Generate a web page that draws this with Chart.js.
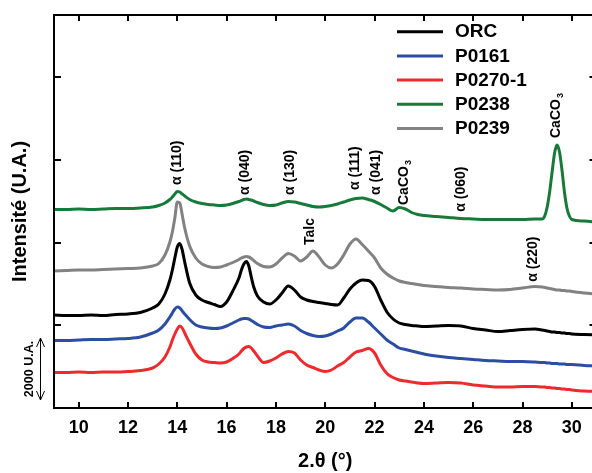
<!DOCTYPE html>
<html>
<head>
<meta charset="utf-8">
<script src="https://cdn.jsdelivr.net/npm/chart.js@4.4.1/dist/chart.umd.min.js"></script>
<style>
html,body{margin:0;padding:0;background:#fff;overflow:hidden;}
#wrap{width:600px;height:473px;}
</style>
</head>
<body>
<div id="wrap"><canvas id="c" width="600" height="473"></canvas></div>
<script>
// ---------------- DATA ----------------
const twoTheta = [
  9, 9.5, 10, 10.5, 11, 11.5, 12, 12.5,
  13, 13.25, 13.5, 13.7, 13.8, 13.9, 14, 14.1, 14.2, 14.3,
  14.5, 14.75, 15, 15.25, 15.5, 15.75, 16, 16.25, 16.5,
  16.6, 16.7, 16.8, 16.9, 17, 17.1, 17.25, 17.5, 17.75, 18,
  18.25, 18.5, 18.75, 19, 19.25, 19.5, 19.75, 20, 20.25, 20.5, 20.75, 21,
  21.25, 21.5, 21.75, 22, 22.25, 22.5, 22.75, 23, 23.25, 23.5, 23.75, 24,
  24.5, 25, 25.5, 26, 26.5, 27, 27.5, 28, 28.5,
  28.8, 28.9, 29, 29.1, 29.2, 29.3, 29.4, 29.5, 29.6, 29.7, 29.8, 29.9,
  30, 30.5, 31
];

const ORC = [
  2790, 2775, 2775, 2790, 2775, 2805, 2820, 2865,
  3000, 3120, 3420, 3840, 4140, 4500, 4830, 4935, 4740, 4380,
  3750, 3390, 3240, 3165, 3105, 3045, 3180, 3510, 3900,
  4140, 4320, 4395, 4260, 3930, 3630, 3360, 3180, 3120, 3240,
  3450, 3660, 3540, 3330, 3240, 3195, 3165, 3135, 3105, 3090, 3300, 3570,
  3750, 3840, 3825, 3645, 3240, 2880, 2670, 2550, 2505, 2475, 2460, 2445,
  2460, 2475, 2460, 2385, 2340, 2295, 2325, 2355, 2370,
  2340, 2325, 2310, 2295, 2280, 2280, 2265, 2265, 2250, 2250, 2235, 2235,
  2220, 2205, 2190
];

const P0161 = [
  2025, 2025, 2040, 2055, 2055, 2070, 2085, 2130,
  2250, 2340, 2520, 2730, 2850, 2970, 3030, 3000, 2910, 2820,
  2655, 2490, 2430, 2400, 2385, 2400, 2460, 2550, 2640,
  2670, 2685, 2685, 2670, 2625, 2580, 2505, 2430, 2415, 2460,
  2490, 2520, 2460, 2325, 2235, 2175, 2145, 2160, 2220, 2310, 2400, 2580,
  2700, 2700, 2580, 2400, 2220, 2040, 1920, 1800, 1755, 1710, 1665, 1620,
  1560, 1515, 1485, 1455, 1425, 1410, 1395, 1395, 1380,
  1365, 1365, 1350, 1350, 1335, 1335, 1335, 1320, 1320, 1320, 1305, 1305,
  1305, 1275, 1260
];

const P0270_1 = [
  1065, 1065, 1080, 1065, 1080, 1080, 1095, 1125,
  1200, 1320, 1530, 1830, 2040, 2220, 2370, 2460, 2400, 2250,
  1950, 1620, 1440, 1380, 1365, 1350, 1380, 1485, 1620,
  1710, 1785, 1830, 1845, 1800, 1710, 1560, 1365, 1410, 1500,
  1620, 1695, 1650, 1440, 1290, 1215, 1140, 1095, 1140, 1260, 1365, 1530,
  1680, 1725, 1785, 1650, 1290, 1035, 915, 840, 810, 780, 750, 735,
  750, 765, 750, 690, 660, 630, 630, 645, 645,
  630, 630, 615, 615, 600, 600, 585, 585, 570, 570, 555, 555,
  540, 510, 495
];

const P0238 = [
  5955, 5955, 5970, 5955, 5970, 5985, 5985, 6000,
  6030, 6075, 6150, 6255, 6330, 6420, 6495, 6480, 6420, 6360,
  6255, 6180, 6135, 6105, 6090, 6075, 6090, 6135, 6195,
  6225, 6255, 6270, 6255, 6240, 6210, 6165, 6105, 6075, 6090,
  6150, 6195, 6180, 6135, 6090, 6045, 6030, 6045, 6075, 6120, 6180, 6240,
  6285, 6300, 6255, 6195, 6105, 6000, 5910, 6015, 5970, 5865, 5805, 5775,
  5745, 5715, 5685, 5670, 5655, 5655, 5655, 5655, 5670,
  5670, 5760, 6030, 6480, 7080, 7650, 7890, 7680, 7140, 6480, 6000, 5760,
  5655, 5610, 5580
];

const P0239 = [
  4110, 4125, 4140, 4140, 4155, 4170, 4185, 4200,
  4260, 4335, 4590, 4980, 5280, 5700, 6180, 6150, 5790, 5400,
  4860, 4500, 4320, 4245, 4215, 4230, 4290, 4365, 4455,
  4500, 4530, 4545, 4530, 4485, 4425, 4335, 4245, 4230, 4320,
  4500, 4635, 4560, 4410, 4530, 4710, 4530, 4290, 4200, 4320, 4590, 4920,
  5070, 4905, 4710, 4500, 4200, 4020, 3900, 3810, 3765, 3735, 3705, 3675,
  3645, 3615, 3600, 3570, 3555, 3540, 3555, 3600, 3645,
  3630, 3615, 3600, 3585, 3570, 3555, 3540, 3540, 3525, 3525, 3510, 3510,
  3495, 3450, 3420
];

const seriesNames = ['ORC', 'P0161', 'P0270-1', 'P0238', 'P0239'];
const seriesValues = [ORC, P0161, P0270_1, P0238, P0239];
const seriesColors = ['#000000', '#2b4ea3', '#ee2a2e', '#177a3a', '#828282'];

const xTickValues = [10, 12, 14, 16, 18, 20, 22, 24, 26, 28, 30];
const yTickValues = [2480, 4960, 7440, 9920];
const xMin = 9, xMax = 31, yMin = 0, yMax = 11790;

const peakLabels = ['α (110)', 'α (040)', 'α (130)', 'α (111)', 'α (041)', 'CaCO', 'α (060)', 'CaCO', 'Talc', 'α (220)'];
const peakLabelSubs = ['', '', '', '', '', '3', '', '3', '', ''];
const peakLabelAngles = [14.0, 16.77, 18.57, 21.2, 22.06, 23.19, 25.53, 29.35, 19.38, 28.42];
const peakLabelBase = [6690, 6390, 6390, 6540, 6390, 6090, 5890, 8100, 4890, 3790];

const scaleBarText = '2000 U.A.';
const scaleBarBottom = 240, scaleBarTop = 2100;

// ---------------- CHART ----------------
const FONT = '"Liberation Sans", Arial, Helvetica, sans-serif';
Chart.defaults.font.family = FONT;
Chart.defaults.color = '#000';

const datasets = seriesNames.map((name, k) => ({
  label: name,
  data: twoTheta.map((t, i) => ({ x: t, y: seriesValues[k][i] })),
  borderColor: seriesColors[k],
  backgroundColor: seriesColors[k],
  borderWidth: 3,
  pointRadius: 0,
  cubicInterpolationMode: 'monotone',
  fill: false
}));

const overlay = {
  id: 'overlay',
  afterDraw(chart) {
    const { ctx, chartArea: ca, scales } = chart;
    const x = scales.x, y = scales.y;
    ctx.save();
    // frame
    ctx.strokeStyle = '#000';
    ctx.lineWidth = 2;
    ctx.lineCap = 'butt';
    ctx.beginPath();
    ctx.moveTo(ca.left, ca.top - 1); ctx.lineTo(ca.left, ca.bottom + 1);
    ctx.moveTo(ca.left, ca.bottom); ctx.lineTo(ca.right, ca.bottom);
    ctx.moveTo(ca.left, ca.top); ctx.lineTo(ca.right, ca.top);
    ctx.moveTo(ca.right, ca.top); ctx.lineTo(ca.right, ca.bottom);
    ctx.stroke();
    // ticks (inward)
    ctx.beginPath();
    xTickValues.forEach(v => {
      const px = Math.round(x.getPixelForValue(v));
      ctx.moveTo(px, ca.bottom); ctx.lineTo(px, ca.bottom - 6);
      ctx.moveTo(px, ca.top); ctx.lineTo(px, ca.top + 6);
    });
    yTickValues.forEach(v => {
      const py = Math.round(y.getPixelForValue(v));
      ctx.moveTo(ca.left, py); ctx.lineTo(ca.left + 7, py);
      ctx.moveTo(ca.right, py); ctx.lineTo(ca.right - 7, py);
    });
    ctx.stroke();

    // peak labels
    ctx.fillStyle = '#000';
    peakLabels.forEach((t, i) => {
      const px = x.getPixelForValue(peakLabelAngles[i]);
      const py = y.getPixelForValue(peakLabelBase[i]);
      ctx.save();
      ctx.translate(px, py);
      ctx.rotate(-Math.PI / 2);
      ctx.font = 'bold 14px ' + FONT;
      ctx.textAlign = 'left';
      ctx.textBaseline = 'middle';
      ctx.fillText(t, 0, 0);
      if (peakLabelSubs[i]) {
        const w = ctx.measureText(t).width;
        ctx.font = 'bold 9px ' + FONT;
        ctx.fillText(peakLabelSubs[i], w + 1, 5);
      }
      ctx.restore();
    });

    // legend
    const legX0 = 397, legX1 = 443, legTX = 455;
    const legY = [31.7, 55.9, 80.1, 104.3, 128.5];
    seriesNames.forEach((n, k) => {
      ctx.strokeStyle = seriesColors[k];
      ctx.lineWidth = 3;
      ctx.beginPath();
      ctx.moveTo(legX0, legY[k]); ctx.lineTo(legX1, legY[k]);
      ctx.stroke();
      ctx.fillStyle = '#000';
      ctx.font = 'bold 19px ' + FONT;
      ctx.textAlign = 'left';
      ctx.textBaseline = 'middle';
      ctx.fillText(n, legTX, legY[k] + 0.5);
    });

    // scale bar
    const sx = 40.5;
    const yb = y.getPixelForValue(scaleBarBottom), yt = y.getPixelForValue(scaleBarTop);
    ctx.strokeStyle = '#000';
    ctx.lineWidth = 1;
    ctx.beginPath();
    ctx.moveTo(sx, yb); ctx.lineTo(sx, yt);
    ctx.moveTo(sx - 4, yt + 9); ctx.lineTo(sx, yt); ctx.lineTo(sx + 4, yt + 9);
    ctx.moveTo(sx - 4, yb - 9); ctx.lineTo(sx, yb); ctx.lineTo(sx + 4, yb - 9);
    ctx.stroke();
    ctx.save();
    ctx.translate(30, (yb + yt) / 2);
    ctx.rotate(-Math.PI / 2);
    ctx.font = 'bold 12.5px ' + FONT;
    ctx.textAlign = 'center';
    ctx.textBaseline = 'middle';
    ctx.fillStyle = '#000';
    ctx.fillText(scaleBarText, 0, 0);
    ctx.restore();

    ctx.restore();
  }
};

new Chart(document.getElementById('c'), {
  type: 'line',
  data: { datasets },
  plugins: [overlay],
  options: {
    responsive: false,
    animation: false,
    devicePixelRatio: 1,
    layout: { padding: { top: 15, right: 3.5, left: 0, bottom: 0 } },
    plugins: { legend: { display: false }, tooltip: { enabled: false } },
    scales: {
      x: {
        type: 'linear',
        min: xMin, max: xMax,
        afterBuildTicks: s => { s.ticks = xTickValues.map(v => ({ value: v })); },
        afterFit: s => { s.height = 65; },
        grid: { display: false, drawTicks: false },
        border: { display: false },
        ticks: { font: { size: 18, weight: 'bold' }, color: '#000', padding: 9.5, maxRotation: 0, autoSkip: false },
        title: { display: true, text: '2.θ (°)', font: { size: 20, weight: 'bold' }, color: '#000', padding: { top: 0, bottom: 0 } }
      },
      y: {
        type: 'linear',
        min: yMin, max: yMax,
        afterBuildTicks: s => { s.ticks = yTickValues.map(v => ({ value: v })); },
        afterFit: s => { s.width = 54; },
        grid: { display: false, drawTicks: false },
        border: { display: false },
        ticks: { display: false },
        title: { display: true, text: 'Intensité (U.A.)', font: { size: 20, weight: 'bold' }, color: '#000', padding: { top: 8, bottom: 0 } }
      }
    }
  }
});
</script>
</body>
</html>
